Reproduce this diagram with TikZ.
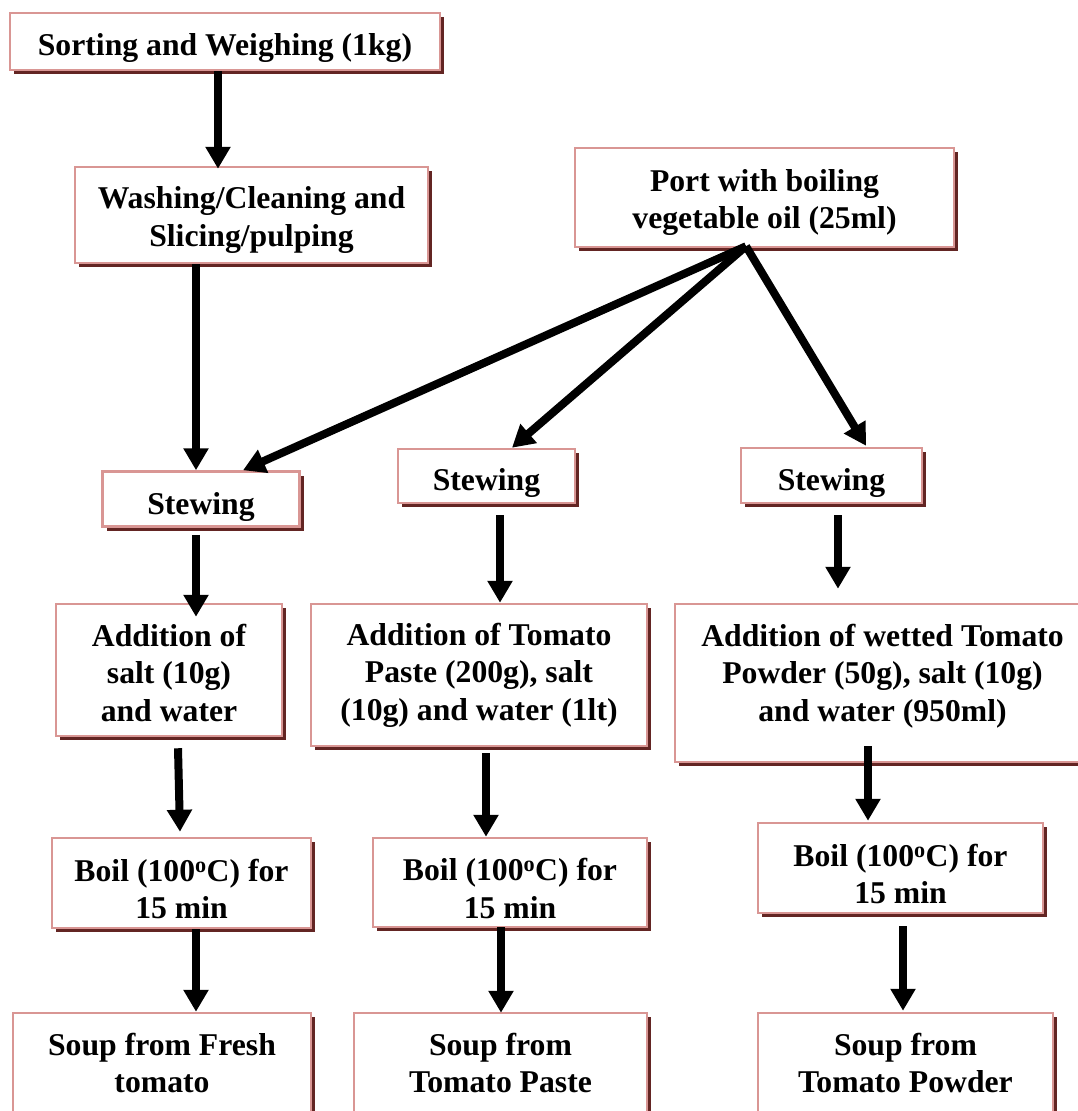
\documentclass[tikz,border=0pt]{standalone}
\usepackage{fontspec}
\setmainfont{Liberation Serif}
\usetikzlibrary{arrows.meta,shadows}
\definecolor{boxpink}{HTML}{D99694}
\definecolor{boxshadow}{HTML}{632523}
\newcommand{\topgap}[1]{\rule{0pt}{#1pt}}
\newcommand{\lowgap}[1]{\rule[-#1pt]{0pt}{0pt}}
\tikzset{
  stepbox/.style={draw=boxpink, line width=2.5pt, fill=white, align=center, inner sep=0pt,
    font=\bfseries\fontsize{31.7}{37.5}\selectfont,
    drop shadow={shadow xshift=4pt, shadow yshift=-4pt, fill=boxshadow, opacity=1}},
  flow/.style={line width=8pt, -{Triangle[length=22pt,width=24pt]}}
}
\begin{document}
\begin{tikzpicture}[x=1pt, y=-1pt]
        \useasboundingbox (0,0) rectangle (1077,1111);

        % Top of the chart
        \node[stepbox, minimum width=430, minimum height=57] (sort) at (225,41.5) {\topgap{34}Sorting and Weighing (1kg)};
        \node[stepbox, minimum width=353, minimum height=96] (wash) at (251.5,215) {\topgap{32}Washing/Cleaning and\\Slicing/pulping};
        \node[stepbox, minimum width=379, minimum height=99] (port) at (764.5,197.5) {\topgap{31.5}Port with boiling\\vegetable oil (25ml)};

        % Stewing row
        \node[stepbox, minimum width=197, minimum height=55] (stewA) at (201,499) {\topgap{37}Stewing};
        \node[stepbox, minimum width=177, minimum height=54] (stewB) at (486.5,476) {\topgap{36}Stewing};
        \node[stepbox, minimum width=181, minimum height=55] (stewC) at (831.5,475.5) {\topgap{36}Stewing};

        % Addition row
        \node[stepbox, minimum width=226, minimum height=132] (addA) at (169,670) {\topgap{28}Addition of\\salt (10g)\\and water};
        \node[stepbox, minimum width=336, minimum height=142] (addB) at (479,675) {Addition of Tomato\\Paste (200g), salt\\(10g) and water (1lt)};
        \node[stepbox, minimum width=415, minimum height=158] (addC) at (882.5,683) {Addition of wetted Tomato\\Powder (50g), salt (10g)\\and water (950ml)\lowgap{21}};

        % Boil row
        \node[stepbox, minimum width=259, minimum height=90] (boilA) at (181.5,883) {\topgap{34}Boil (100\textsuperscript{o}C) for\\15 min};
        \node[stepbox, minimum width=274, minimum height=89] (boilB) at (510,882.5) {\topgap{34}Boil (100\textsuperscript{o}C) for\\15 min};
        \node[stepbox, minimum width=285, minimum height=90] (boilC) at (900.5,868) {\topgap{34}Boil (100\textsuperscript{o}C) for\\15 min};

        % Soups at the bottom
        \node[stepbox, minimum width=298, minimum height=100] (soupA) at (162,1063) {Soup from Fresh\\tomato};
        \node[stepbox, minimum width=293, minimum height=100] (soupB) at (500.5,1063) {Soup from\\Tomato Paste};
        \node[stepbox, minimum width=295, minimum height=100] (soupC) at (905.5,1063) {Soup from\\Tomato Powder};

        % Connect the steps
        \foreach \a/\b/\sx/\sy/\tx/\ty in {sort/wash/-7/0/-33.5/3, wash/stewA/-55.5/0/-5/0,
            stewA/addA/-5/7/27/14, stewB/addB/13.5/11/21/0, stewC/addC/6.5/11/-44.5/-14,
            addA/boilA/9/11/-1.5/-5, addB/boilB/7/6/-24/0, addC/boilC/-14.5/-17/-32.5/-1,
            boilA/soupA/14.5/0/34/0, boilB/soupB/-9/-1/0.5/1, boilC/soupC/2.5/12/-2.5/-1} {
            \draw[flow] ([shift={(\sx,\sy)}]\a.south) -- ([shift={(\tx,\ty)}]\b.north);
            }

        % Oil goes to every stewing step
        \foreach \b/\tx/\ty in {stewA/42/0, stewB/25.5/0, stewC/34.5/-1} {
            \draw[flow] ([shift={(-18.5,-2)}]port.south) -- ([shift={(\tx,\ty)}]\b.north);
            }
    \end{tikzpicture}
\end{document}
